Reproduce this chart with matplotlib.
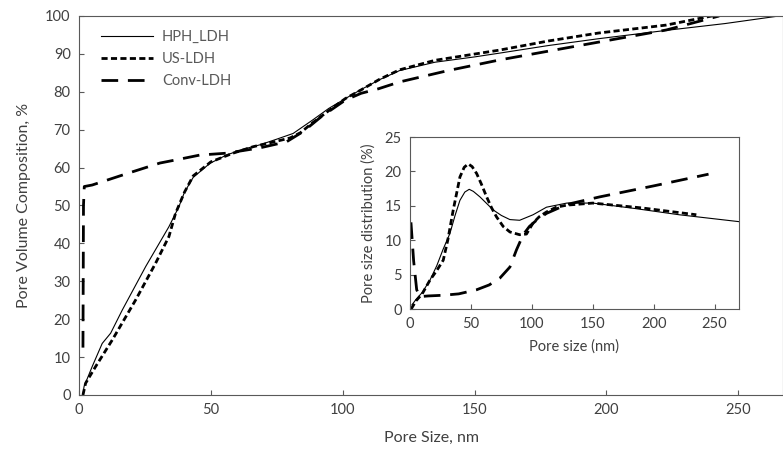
import numpy as np
import matplotlib.pyplot as plt

plt.rcParams['font.family'] = ['Lato', 'DejaVu Sans']

# main plot: cumulative pore volume
hph_x = [1.5, 1.9, 5, 8.8, 12, 16.4, 25.3, 34.1, 37.9, 40, 43.3, 49.6, 55.9, 62, 68.6, 75, 81.2, 88.7, 94.7, 101, 107,
         114, 121.6, 135, 150, 159.5, 178, 197, 222.7, 245, 265.5]
hph_y = [0, 2.2, 7.5, 13.6, 16.3, 22.4, 33.9, 44.4, 49.7, 53.5, 57.4, 61.1, 63.3, 64.8, 66.0, 67.5, 69.0, 72.6, 75.6,
         78.2, 80.6, 83.2, 85.6, 87.8, 89.2, 90.2, 92.2, 94.0, 96.2, 98.0, 100]
us_x = [1.5, 2.5, 6.3, 12.6, 21.5, 29, 34.1, 36.6, 40, 43.3, 50, 58.4, 66, 74, 80, 84, 88, 94.7, 101, 107, 114, 121.6,
        135, 159.5, 178, 197, 222.7, 240]
us_y = [0, 3.1, 7.5, 14.5, 25.1, 34.7, 41.8, 47.9, 53.5, 57.8, 61.5, 63.8, 65.5, 66.8, 67.8, 69.2, 71.5, 75, 78.2, 80.5,
        83.3, 85.8, 88.3, 91, 93.4, 95.5, 97.6, 100]
conv_x = [1.5, 1.7, 2, 5, 19, 30.7, 38, 45.8, 56, 68.6, 78.7, 85, 92, 101, 107, 113.6, 121.6, 140, 159.5, 197, 222.7, 242.8]
conv_y = [12.5, 50, 55, 55.4, 58.6, 61.2, 62.2, 63.3, 63.8, 65.2, 66.8, 69.5, 73.5, 77.8, 79.6, 80.8, 82.6, 85.6, 88.4,
          93.1, 96.3, 100]

# inset: pore size distribution
ihph_x = [1.6, 5, 10, 16.4, 22, 27, 32.8, 37, 41, 45, 48.6, 52, 57.4, 62, 68.3, 75, 82, 90, 101, 112, 128.7, 150, 185,
          221, 270]
ihph_y = [0.6, 1.4, 2.4, 4.2, 6.3, 8.6, 11, 13.6, 15.8, 17.0, 17.4, 17.1, 16.3, 15.5, 14.4, 13.6, 13.0, 12.9, 13.7, 14.8,
          15.4, 15.4, 14.6, 13.7, 12.7]
ius_x = [1, 5, 10, 16.4, 22, 27.3, 31, 35.5, 41, 44.5, 47.8, 51, 54.7, 58.5, 62.9, 67, 71, 76.5, 82, 90, 95.6, 101, 106,
         112, 120, 128.7, 150, 190, 235]
ius_y = [0, 1.2, 2.2, 4.2, 5.6, 7.1, 10, 14.4, 19.2, 20.6, 21.1, 20.7, 19.7, 18.2, 16.3, 14.7, 13.4, 12.0, 11.2, 10.8,
         10.9, 12.5, 13.4, 14.1, 14.8, 15.1, 15.4, 14.7, 13.7]
iconv_x = [0.8, 3, 5.5, 8.2, 15, 27.3, 40, 54.7, 65, 73.8, 82, 87.4, 92.9, 98, 103.8, 112, 128.7, 155.7, 200, 245]
iconv_y = [12.6, 7, 2.8, 1.8, 1.9, 2.0, 2.2, 2.8, 3.5, 4.5, 6.1, 8.6, 10.8, 12.0, 12.9, 13.9, 15.2, 16.3, 17.9, 19.6]

grey = '#595959'

fig = plt.figure(figsize=(7.83, 4.58), dpi=100)
ax = fig.add_axes([0.1009, 0.1376, 0.8991, 0.8275])
ax.plot(hph_x, hph_y, color='black', lw=0.8, label='HPH_LDH')
ax.plot(us_x, us_y, color='black', lw=2, linestyle=(0, (2.2, 1.2)), label='US-LDH')
ax.plot(conv_x, conv_y, color='black', lw=2, linestyle=(0, (6, 3.5)), label='Conv-LDH')
ax.set_xlim(0, 267)
ax.set_ylim(0, 100)
ax.set_xticks(range(0, 251, 50))
ax.set_yticks(range(0, 101, 10))
ax.tick_params(direction='in', labelsize=10.5, colors=grey, labelcolor='#404040', pad=6)
for s in ax.spines.values():
    s.set_color(grey)
ax.set_xlabel('Pore Size, nm', fontsize=11.5, color='#404040', labelpad=10)
ax.set_ylabel('Pore Volume Composition, %', fontsize=11.5, color='#404040', labelpad=10)
leg = ax.legend(loc='upper left', bbox_to_anchor=(0.012, 0.997), frameon=False,
                handlelength=3.6, handletextpad=0.6, fontsize=10.5, labelspacing=0.55)
for t in leg.get_texts():
    t.set_color(grey)

ins = fig.add_axes([0.5236, 0.3253, 0.4202, 0.3755])
ins.plot(ihph_x, ihph_y, color='black', lw=0.8)
ins.plot(ius_x, ius_y, color='black', lw=2, linestyle=(0, (2.2, 1.2)))
ins.plot(iconv_x, iconv_y, color='black', lw=2, linestyle=(0, (6, 3.5)))
ins.set_xlim(0, 270)
ins.set_ylim(0, 25)
ins.set_xticks(range(0, 251, 50))
ins.set_yticks(range(0, 26, 5))
ins.tick_params(direction='in', labelsize=10.5, colors=grey, labelcolor='#404040', pad=6)
for s in ins.spines.values():
    s.set_color(grey)
ins.set_xlabel('Pore size (nm)', fontsize=10.5, color='#404040', labelpad=6)
ins.set_ylabel('Pore size distribution (%)', fontsize=10.5, color='#404040', labelpad=6)

fig.savefig('out.png', dpi=100)
